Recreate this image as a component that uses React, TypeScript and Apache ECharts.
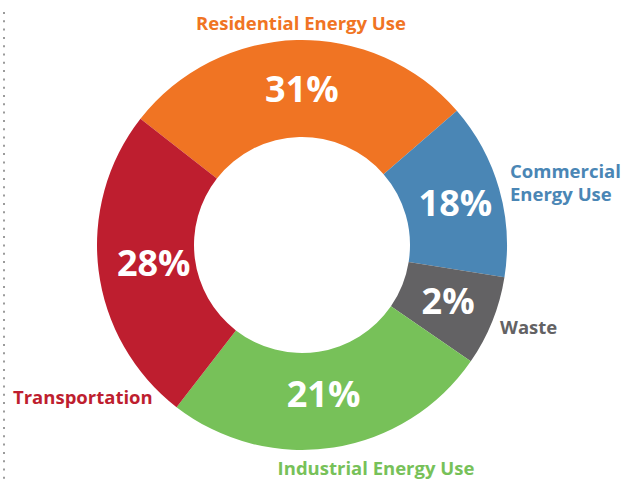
import React, { useEffect, useRef } from "react";
import * as echarts from "echarts";

// Categories, in drawing order (clockwise from the top-left boundary)
const categories = [
  "Residential Energy Use",
  "Commercial Energy Use",
  "Waste",
  "Industrial Energy Use",
  "Transportation",
];
// Printed percentages on the slices
const percentLabels = ["31%", "18%", "2%", "21%", "28%"];
// Angular share of each slice as drawn in the picture (percent of the ring)
const sliceShares = [28.1, 13.9, 7.1, 25.9, 25.1];
const colors = ["#F07423", "#4A86B5", "#636264", "#77C159", "#BE1E2F"];

// Small nudges of the percent labels from the slice centres
const labelNudge = [
  [4, 3],
  [0, 1],
  [-2, -4],
  [-3, -9],
  [10, -2],
];

// Placement of the category names around the ring
const nameLayout = [
  { x: 301, y: 22, align: "center", text: "Residential Energy Use" },
  { x: 510, y: 182, align: "left", text: "Commercial\nEnergy Use" },
  { x: 500, y: 326, align: "left", text: "Waste" },
  { x: 376, y: 467, align: "center", text: "Industrial Energy Use" },
  { x: 13, y: 396, align: "left", text: "Transportation" },
];

export default function App() {
  const ref = useRef<HTMLDivElement>(null);
  useEffect(() => {
    if (!ref.current) return;
    const chart = echarts.init(ref.current, null, { renderer: "svg" });
    const font = "'Open Sans', 'Noto Sans', sans-serif";
    chart.setOption({
      animation: false,
      backgroundColor: "#ffffff",
      series: [
        {
          type: "pie",
          center: [302, 245],
          radius: [108, 205],
          startAngle: 142,
          clockwise: true,
          silent: true,
          avoidLabelOverlap: false,
          itemStyle: { borderWidth: 0 },
          label: {
            show: true,
            position: "inside",
            color: "#ffffff",
            fontFamily: font,
            fontWeight: 700,
            fontSize: 36,
            formatter: (p: any) => percentLabels[p.dataIndex],
          },
          labelLine: { show: false },
          data: categories.map((name, i) => ({
            name,
            value: sliceShares[i],
            itemStyle: { color: colors[i] },
            label: { offset: labelNudge[i] },
          })),
        },
      ],
      graphic: [
        {
          type: "line",
          shape: { x1: 4, y1: 12, x2: 4, y2: 480 },
          style: { stroke: "#9b9b9b", lineWidth: 2, lineDash: [2, 6.3] },
          silent: true,
        },
        ...categories.map((name, i) => ({
          type: "text",
          x: nameLayout[i].x,
          y: nameLayout[i].y,
          silent: true,
          style: {
            text: nameLayout[i].text,
            fill: colors[i],
            font: `700 18.5px ${font}`,
            textAlign: nameLayout[i].align,
            textVerticalAlign: "middle",
            lineHeight: 23,
          },
        })),
      ],
    });
    return () => chart.dispose();
  }, []);
  return (
    <div
      ref={ref}
      style={{ position: "fixed", left: 0, top: 0, width: 623, height: 480 }}
    />
  );
}
